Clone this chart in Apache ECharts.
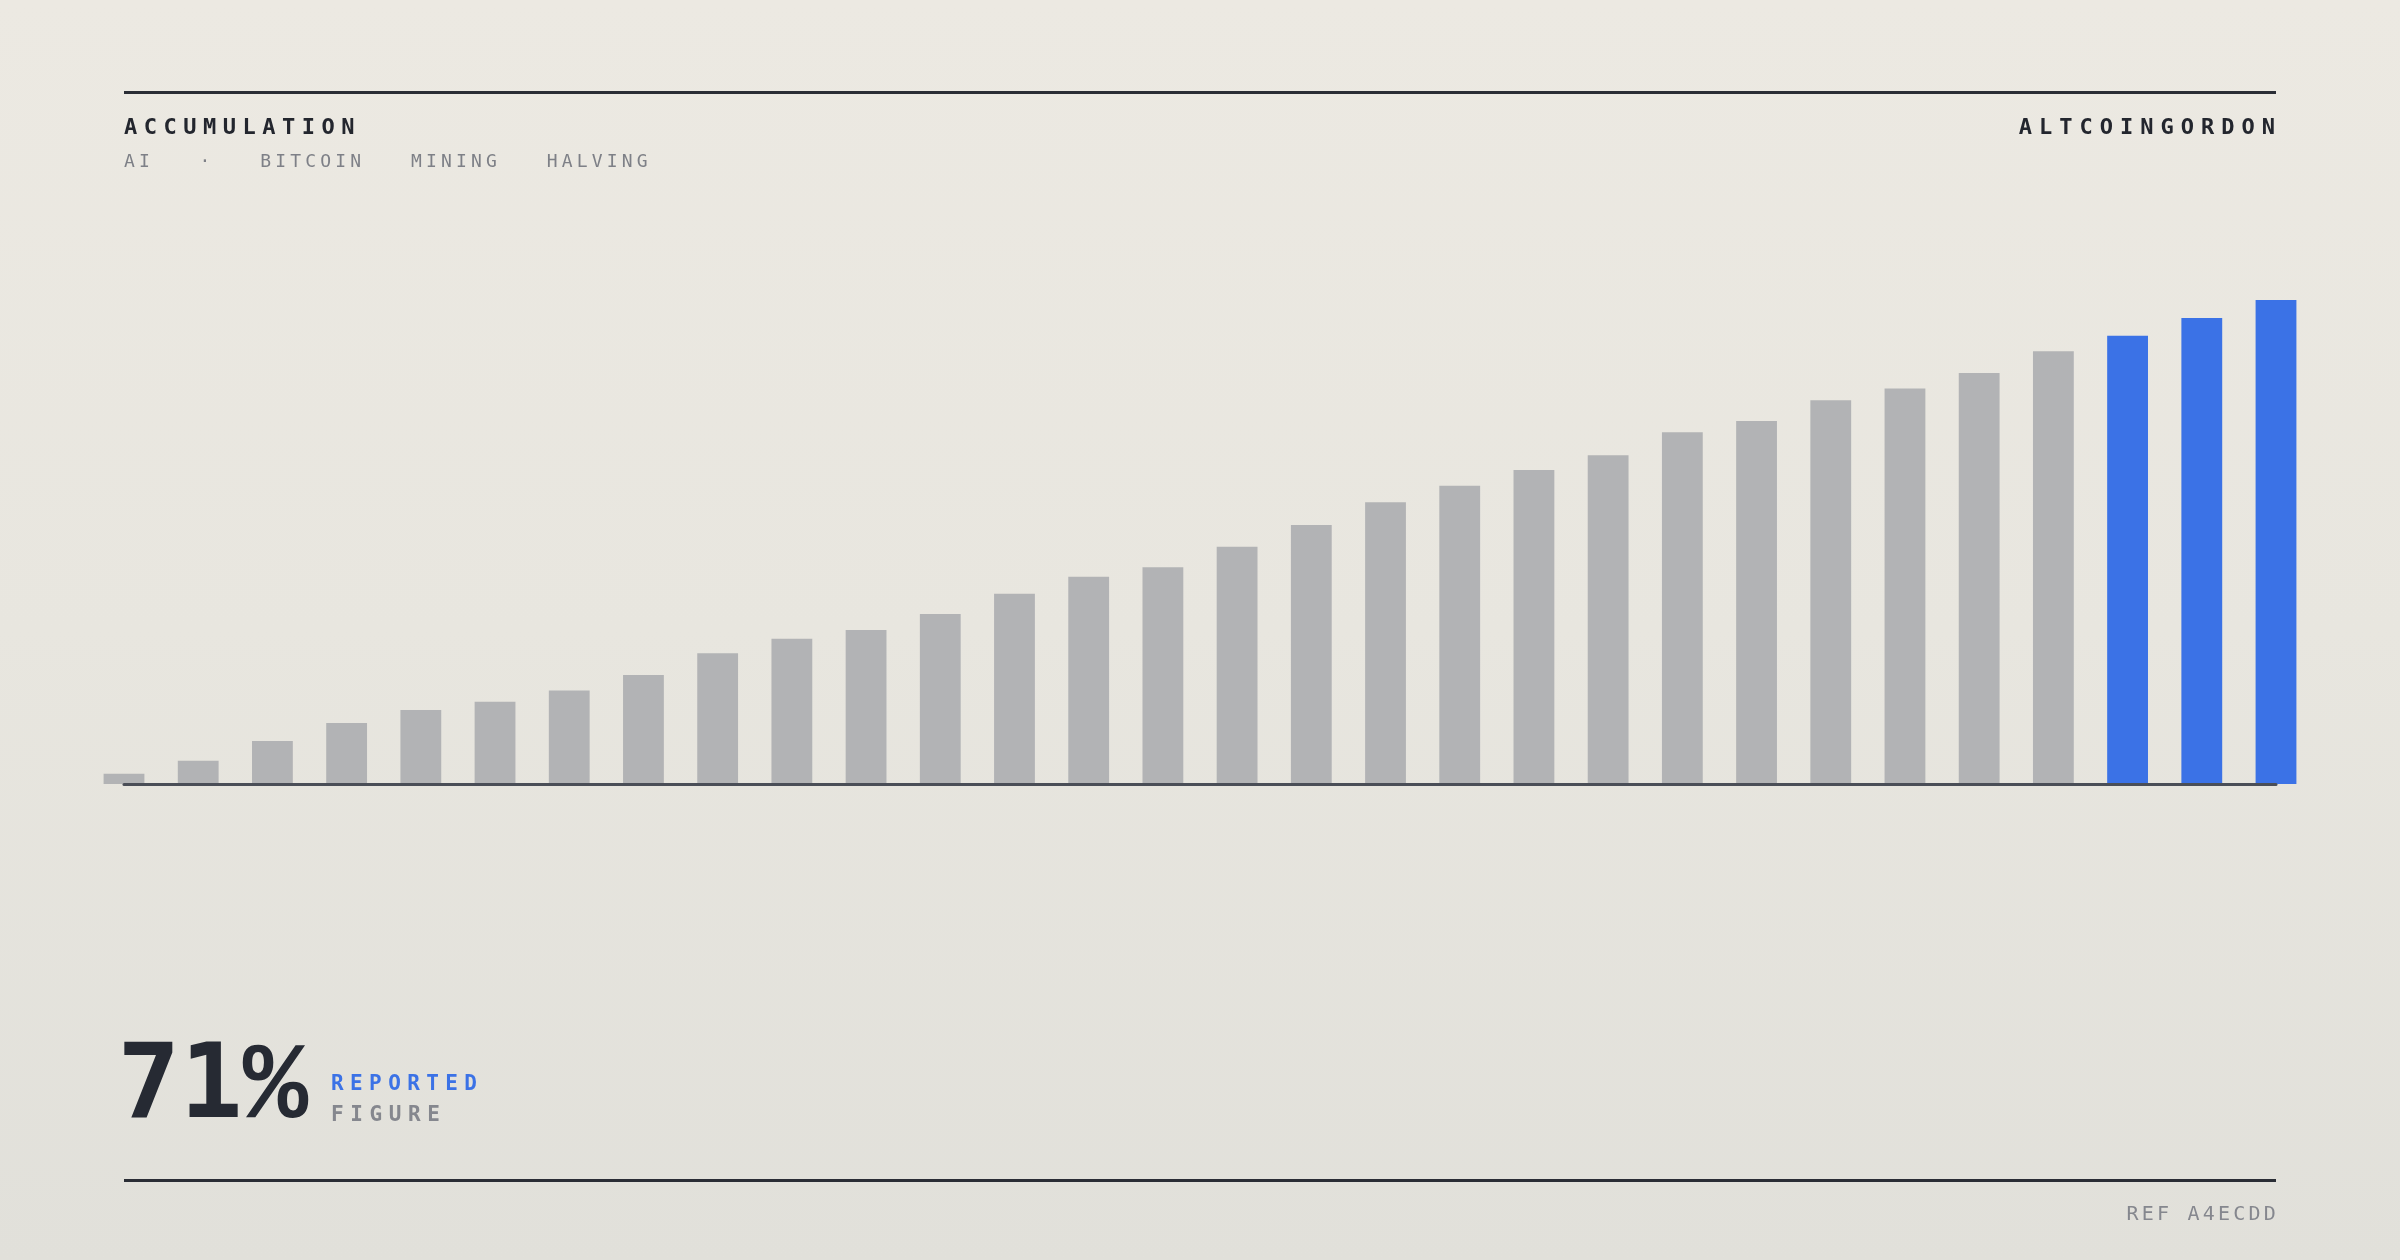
<!DOCTYPE html>
<html>
<head>
<meta charset="utf-8">
<script src="https://cdn.jsdelivr.net/npm/echarts@6/dist/echarts.min.js"></script>
<style>
  html, body { margin: 0; padding: 0; }
  body {
    width: 2400px; height: 1260px; overflow: hidden; position: relative;
    background: linear-gradient(180deg, #ece9e2 0%, #e8e6df 50%, #e1e0da 100%);
    font-family: "DejaVu Sans Mono", monospace;
  }
  #chart { position: absolute; left: 0; top: 0; width: 2400px; height: 1260px; }
  .t { position: absolute; line-height: 1; white-space: nowrap; }
  .rule { position: absolute; left: 124px; width: 2152px; height: 3px; background: #2a2d35; }
  #title { left: 124px; top: 116.4px; font-size: 22px; font-weight: bold; letter-spacing: 6.5px; color: #23262e; }
  #brand { right: 118px; top: 116.4px; font-size: 22px; font-weight: bold; letter-spacing: 7px; color: #23262e; }
  #tags { left: 124px; top: 151.8px; font-size: 18px; letter-spacing: 4.2px; color: #7e8087; display: flex; gap: 45.5px; }
  #big { left: 117.4px; top: 1028.7px; font-size: 104px; font-weight: bold; color: #262a33; }
  #big .pc { font-family: "Liberation Mono", monospace; font-size: 109px; letter-spacing: -3px; }
  #rep { left: 331px; top: 1072.5px; font-size: 21px; font-weight: bold; letter-spacing: 6.4px; color: #3b72e6; }
  #fig { left: 331px; top: 1103.7px; font-size: 21px; font-weight: bold; letter-spacing: 6.6px; color: #85878e; }
  #ref { right: 121px; top: 1203.1px; font-size: 20px; letter-spacing: 3.2px; color: #85878e; }
</style>
</head>
<body>
<div id="chart"></div>
<div class="rule" style="top:90.5px"></div>
<div class="rule" style="top:1179px"></div>
<div class="t" id="title">ACCUMULATION</div>
<div class="t" id="brand">ALTCOINGORDON</div>
<div class="t" id="tags"><span>AI</span><span>·</span><span>BITCOIN</span><span>MINING</span><span>HALVING</span></div>
<div class="t" id="big">71<span class="pc">%</span></div>
<div class="t" id="rep">REPORTED</div>
<div class="t" id="fig">FIGURE</div>
<div class="t" id="ref">REF A4ECDD</div>
<script>
const categories = ['01','02','03','04','05','06','07','08','09','10',
                    '11','12','13','14','15','16','17','18','19','20',
                    '21','22','23','24','25','26','27','28','29','30'];
const values = [2.1, 4.8, 8.9, 12.6, 15.3, 17.0, 19.3, 22.5, 27.0, 30.0,
                31.8, 35.1, 39.3, 42.8, 44.8, 49.0, 53.5, 58.2, 61.6, 64.9,
                67.9, 72.7, 75.0, 79.3, 81.7, 84.9, 89.4, 92.6, 96.3, 100.0];
const highlightIndex = [27, 28, 29];
const baseColor = '#b2b3b5';
const accentColor = '#3b72e6';

const chart = echarts.init(document.getElementById('chart'), null, { renderer: 'canvas' });
chart.setOption({
  animation: false,
  backgroundColor: 'transparent',
  grid: { left: 124, right: 124, top: 300, bottom: 476 },
  xAxis: {
    type: 'category',
    data: categories,
    boundaryGap: false,
    z: 10,
    axisLine: { show: true, lineStyle: { color: '#4a4e57', width: 3 } },
    axisTick: { show: false },
    axisLabel: { show: false },
    splitLine: { show: false }
  },
  yAxis: {
    type: 'value', min: 0, max: 100, show: false,
    splitLine: { show: false }
  },
  series: [{
    type: 'bar',
    clip: false,
    barWidth: '55%',
    data: values.map((v, i) => ({
      value: v,
      itemStyle: { color: highlightIndex.includes(i) ? accentColor : baseColor }
    }))
  }]
});
</script>
</body>
</html>
